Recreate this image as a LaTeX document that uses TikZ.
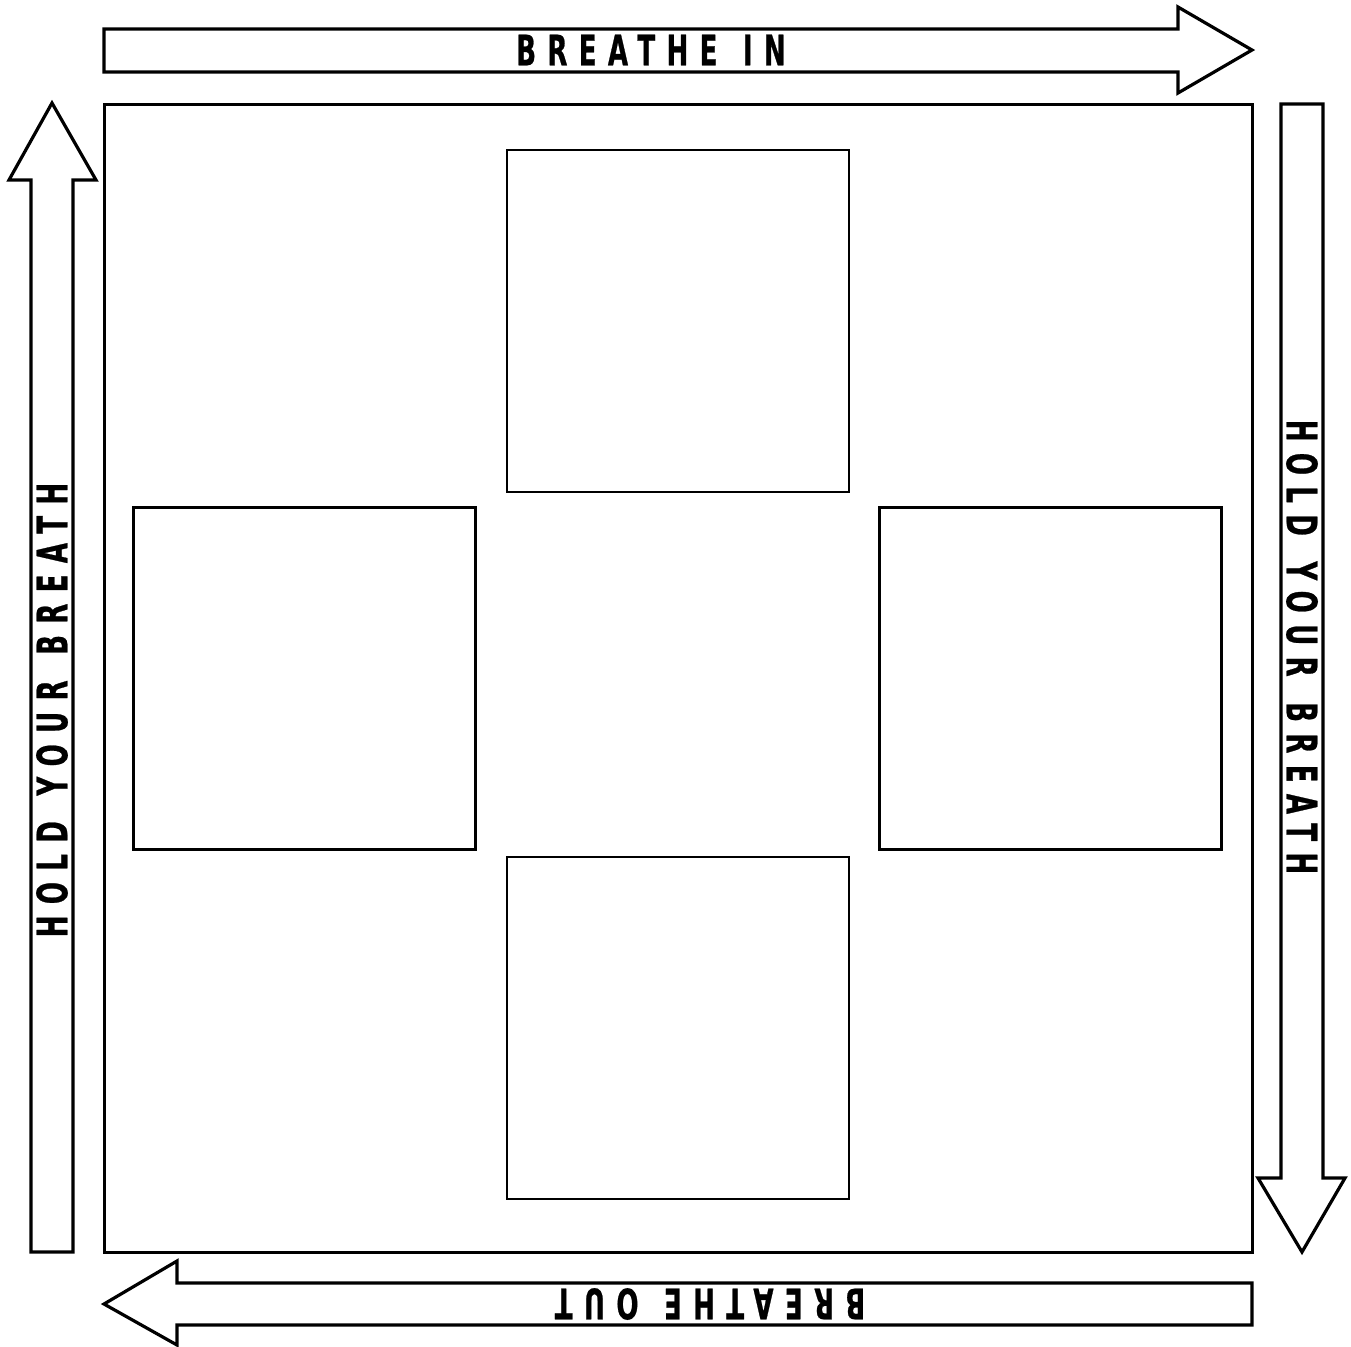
\documentclass[tikz,border=0pt]{standalone}
\usepackage{fontspec}
\newfontfamily\breathfont[FakeStretch=0.62,LetterSpace=27,WordSpace=1.25,FakeBold=0.6]{DejaVu Sans}
\usetikzlibrary{positioning}

\begin{document}
\begin{tikzpicture}[
  x=0.5pt, y=-0.5pt,
  flow/.style={draw, line width=1.6pt, line join=miter, fill=white},
  panel/.style={draw, line width=1.3pt, minimum size=171pt, inner sep=0pt},
  lbl/.style={font=\breathfont\bfseries\fontsize{21}{21}\selectfont, inner sep=0pt}]
\useasboundingbox (0,0) rectangle (1351,1346);
% outer square
\node[draw, line width=1.5pt, minimum size=574pt, inner sep=0pt] (frame) at (678,678) {};
% four panels
\node[panel] (ptop) at (678,321) {};
\node[panel] (pleft) at (304.5,678.5) {};
\node[panel] (pright) at (1050.5,678.5) {};
\node[panel] (pbottom) at (678,1028) {};
% arrows round the square
\draw[flow] (104,29) -- (1178,29) -- (1178,7) -- (1252,50) -- (1178,93) -- (1178,72) -- (104,72) -- cycle;
\draw[flow] (1281,104) -- (1323,104) -- (1323,1178) -- (1345,1178) -- (1302,1252) -- (1258,1178) -- (1281,1178) -- cycle;
\draw[flow] (1252,1283) -- (1252,1325) -- (177,1325) -- (177,1345) -- (104,1304) -- (177,1261) -- (177,1283) -- cycle;
\draw[flow] (31,1252) -- (31,180) -- (9,180) -- (52,103) -- (96,180) -- (73,180) -- (73,1252) -- cycle;
% labels
\node[lbl] (lin) at (651,50) {BREATHE IN};
\node[lbl, rotate=-90] (lholdr) at (1302,647) {HOLD YOUR BREATH};
\node[lbl, rotate=180] (lout) at (710,1304) {BREATHE OUT};
\node[lbl, rotate=90] (lholdl) at (52,710) {HOLD YOUR BREATH};
\end{tikzpicture}
\end{document}
